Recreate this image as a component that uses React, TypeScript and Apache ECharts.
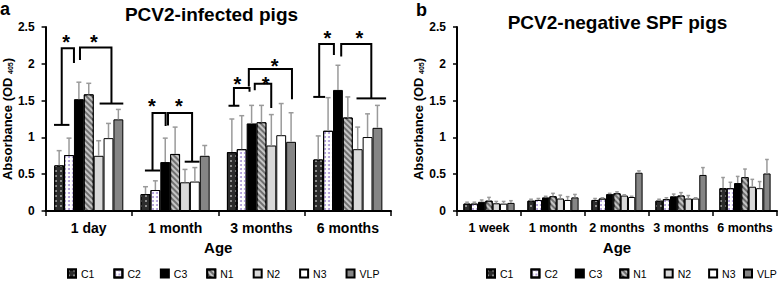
import React, { useEffect, useRef } from "react";
import * as echarts from "echarts";

const FONT = '"Liberation Sans", Arial, Helvetica, sans-serif';

const groups = ["C1", "C2", "C3", "N1", "N2", "N3", "VLP"];
const infectedAges = ["1 day", "1 month", "3 months", "6 months"];
const spfAges = ["1 week", "1 month", "2 months", "3 months", "6 months"];

// Mean absorbance, one row per group (C1..VLP), one column per age
const infectedMeans = [
  [0.62, 0.23, 0.8, 0.7],
  [0.76, 0.285, 0.84, 1.09],
  [1.52, 0.665, 1.19, 1.645],
  [1.585, 0.775, 1.205, 1.27],
  [0.75, 0.39, 0.89, 0.84],
  [0.99, 0.4, 1.03, 1.005],
  [1.245, 0.75, 0.94, 1.13],
];
// Upper end of the error bar (mean + SD)
const infectedUpper = [
  [0.82, 0.33, 1.25, 1.02],
  [0.99, 0.41, 1.295, 1.54],
  [1.75, 0.99, 1.435, 1.98],
  [1.735, 1.14, 1.435, 1.55],
  [0.955, 0.565, 1.31, 1.14],
  [1.19, 0.59, 1.46, 1.32],
  [1.38, 0.89, 1.335, 1.435],
];

const spfMeans = [
  [0.1, 0.14, 0.15, 0.14, 0.31],
  [0.1, 0.15, 0.17, 0.16, 0.31],
  [0.125, 0.185, 0.23, 0.2, 0.38],
  [0.14, 0.2, 0.24, 0.21, 0.46],
  [0.105, 0.17, 0.21, 0.17, 0.33],
  [0.1, 0.15, 0.19, 0.17, 0.31],
  [0.11, 0.185, 0.52, 0.49, 0.51],
];
const spfUpper = [
  [0.12, 0.16, 0.17, 0.16, 0.455],
  [0.12, 0.17, 0.18, 0.18, 0.39],
  [0.15, 0.2, 0.24, 0.23, 0.47],
  [0.185, 0.24, 0.26, 0.25, 0.57],
  [0.13, 0.215, 0.22, 0.21, 0.43],
  [0.13, 0.195, 0.2, 0.18, 0.4],
  [0.14, 0.225, 0.545, 0.59, 0.7],
];

// Significance brackets (panel a):
// [ageIndex, xLeft, xRight, yLeft, yTop, yRight, footLeftHalf, footRightHalf]
// x given in bar widths from the age group's centre
const infectedBrackets = [
  [0, -2.74, -1.5, 1.17, 2.21, 2.01, 0.78, 0],
  [0, -0.89, 2.3, 2.05, 2.22, 1.46, 0, 1.2],
  [1, -2.29, -0.96, 0.55, 1.33, 1.155, 0.77, 0],
  [1, -0.72, 1.72, 1.16, 1.33, 0.67, 0, 0.75],
  [2, -2.79, -1.21, 1.43, 1.67, 1.62, 0.55, 0],
  [2, -0.68, 0.99, 1.64, 1.73, 1.4, 0, 0],
  [2, -1.28, 3.09, 1.69, 1.93, 1.52, 0, 0],
  [3, -2.9, -1.41, 1.55, 2.27, 2.12, 0.6, 0],
  [3, -0.67, 2.38, 2.1, 2.27, 1.53, 0, 1.5],
];
// [ageIndex, x (bar widths from centre), y]
const infectedStars = [
  [0, -2.3, 2.36],
  [0, 0.51, 2.36],
  [1, -2.36, 1.49],
  [1, 0.38, 1.49],
  [2, -2.45, 1.79],
  [2, 0.42, 1.8],
  [2, 1.33, 2.04],
  [3, -2.08, 2.42],
  [3, 1.16, 2.42],
];

const yTicks = { min: 0, max: 2.5, interval: 0.5 };

const fills = ["#2c2c2c", "#ffffff", "#000000", "#707070", "#d9d9d9", "#ffffff", "#858585"];
const decals: any[] = [
  { symbol: "rect", symbolSize: 1, color: "#8c8c8c", dashArrayX: [1.2, 2.3], dashArrayY: [1.2, 2.3] },
  { symbol: "circle", symbolSize: 1, color: "#a894d4", dashArrayX: [1.8, 1.2], dashArrayY: [1.8, 1.2] },
  null,
  { symbol: "rect", symbolSize: 1, color: "#c4c4c4", dashArrayX: [1, 0], dashArrayY: [1.3, 1.5], rotation: Math.PI / 4 },
  null,
  null,
  null,
];

const BAR_FRACTION = 0.8;

function errorRender(params: any, api: any) {
  const cat = api.value(0);
  const s = api.value(1);
  const base = api.coord([cat, api.value(2)]);
  const top = api.coord([cat, api.value(3)]);
  const bw = (api.size([1, 0])[0] * BAR_FRACTION) / groups.length;
  const x = base[0] + (s - (groups.length - 1) / 2) * bw;
  const cap = Math.max(1.5, bw * 0.25);
  const style = { stroke: "#9a9a9a", lineWidth: 1.5, fill: "none" };
  return {
    type: "group",
    children: [
      { type: "line", shape: { x1: x, y1: base[1], x2: x, y2: top[1] }, style },
      { type: "line", shape: { x1: x - cap, y1: top[1], x2: x + cap, y2: top[1] }, style },
    ],
  };
}

function bracketRender(params: any, api: any) {
  const cat = api.value(0);
  const cx = api.coord([cat, 0])[0];
  const bw = (api.size([1, 0])[0] * BAR_FRACTION) / groups.length;
  const X = (v: number) => cx + v * bw;
  const Y = (v: number) => api.coord([cat, v])[1];
  const xl = X(api.value(1));
  const xr = X(api.value(2));
  const yl = Y(api.value(3));
  const yt = Y(api.value(4));
  const yr = Y(api.value(5));
  const fl = api.value(6) * bw;
  const fr = api.value(7) * bw;
  const style = { stroke: "#000", lineWidth: 2, fill: "none" };
  const children: any[] = [
    { type: "polyline", shape: { points: [[xl, yl], [xl, yt], [xr, yt], [xr, yr]] }, style },
  ];
  if (fl > 0) children.push({ type: "line", shape: { x1: xl - fl, y1: yl, x2: xl + fl, y2: yl }, style });
  if (fr > 0) children.push({ type: "line", shape: { x1: xr - fr, y1: yr, x2: xr + fr, y2: yr }, style });
  return { type: "group", children };
}

function starRender(params: any, api: any) {
  const cat = api.value(0);
  const c = api.coord([cat, api.value(2)]);
  const bw = (api.size([1, 0])[0] * BAR_FRACTION) / groups.length;
  return {
    type: "text",
    x: c[0] + api.value(1) * bw,
    y: c[1] + 5,
    style: {
      text: "*",
      fontSize: 20,
      fontWeight: "bold",
      fontFamily: FONT,
      fill: "#000",
      align: "center",
      verticalAlign: "middle",
    },
  };
}

function makeAxes(gridIndex: number, ages: string[], labelSize: number) {
  const x = {
    type: "category",
    gridIndex,
    data: ages,
    boundaryGap: true,
    axisLine: { show: true, lineStyle: { color: "#000", width: 2 } },
    axisTick: { show: true, length: 5, lineStyle: { color: "#000", width: 1.5 } },
    axisLabel: {
      color: "#000",
      fontWeight: "bold",
      fontSize: labelSize,
      fontFamily: FONT,
      margin: 10,
      interval: 0,
      hideOverlap: false,
    },
    name: "Age",
    nameLocation: "middle",
    nameGap: 29,
    nameTextStyle: { color: "#000", fontWeight: "bold", fontSize: 15, fontFamily: FONT },
    splitLine: { show: false },
  };
  const y = {
    type: "value",
    gridIndex,
    min: yTicks.min,
    max: yTicks.max,
    interval: yTicks.interval,
    axisLine: { show: true, lineStyle: { color: "#000", width: 2 } },
    axisTick: { show: true, length: 4, lineStyle: { color: "#000", width: 1.5 } },
    axisLabel: { color: "#000", fontWeight: "bold", fontSize: 12, fontFamily: FONT, margin: 11 },
    splitLine: { show: false },
    name: "Absorbance (OD {sub|405})",
    nameLocation: "middle",
    nameGap: gridIndex === 0 ? 28 : 27,
    nameTextStyle: {
      color: "#000",
      fontWeight: "bold",
      fontSize: 13,
      fontFamily: FONT,
      rich: {
        sub: { fontSize: 7, fontWeight: "bold", fontFamily: FONT, color: "#000", verticalAlign: "bottom" },
      },
    },
  };
  return { x, y };
}

function barSeries(gridIndex: number, means: number[][]) {
  return groups.map((name, i) => ({
    type: "bar",
    name,
    xAxisIndex: gridIndex,
    yAxisIndex: gridIndex,
    barGap: "0%",
    barCategoryGap: `${Math.round((1 - BAR_FRACTION) * 100)}%`,
    data: means[i],
    itemStyle: {
      color: fills[i],
      borderColor: "#000",
      borderWidth: 1,
      ...(decals[i] ? { decal: decals[i] } : {}),
    },
    emphasis: { disabled: true },
    z: 2,
  }));
}

function errorSeries(gridIndex: number, means: number[][], upper: number[][]) {
  const data: number[][] = [];
  means.forEach((row, s) => row.forEach((m, c) => data.push([c, s, m, upper[s][c]])));
  return {
    type: "custom",
    xAxisIndex: gridIndex,
    yAxisIndex: gridIndex,
    renderItem: errorRender,
    data,
    encode: { x: 0, y: [2, 3] },
    silent: true,
    z: 3,
  };
}

export default function App() {
  const ref = useRef<HTMLDivElement>(null);

  useEffect(() => {
    if (!ref.current) return;
    const chart = echarts.init(ref.current, null, { renderer: "svg" });
    const a = makeAxes(0, infectedAges, 14);
    const b = makeAxes(1, spfAges, 12.5);
    const legendBase = {
      orient: "horizontal",
      itemWidth: 8,
      itemHeight: 8,
      icon: "rect",
      padding: 0,
      selectedMode: false,
      textStyle: { color: "#000", fontSize: 10.5, fontFamily: FONT },
    };
    chart.setOption({
      animation: false,
      textStyle: { fontFamily: FONT },
      grid: [
        { left: 42, top: 27, width: 349, height: 184 },
        { left: 457, top: 27, width: 320, height: 184 },
      ],
      xAxis: [a.x, b.x],
      yAxis: [a.y, b.y],
      legend: [
        { ...legendBase, data: groups, left: 67, top: 268, itemGap: 19 },
        { ...legendBase, data: groups.slice(0, 6), left: 486, top: 268, itemGap: 17 },
        { ...legendBase, data: groups.slice(6), left: 743, top: 268 },
      ],
      graphic: [
        { type: "text", left: 0, top: 0, style: { text: "a", fontSize: 18, fontWeight: "bold", fontFamily: FONT, fill: "#000" } },
        { type: "text", left: 416, top: 1, style: { text: "b", fontSize: 18, fontWeight: "bold", fontFamily: FONT, fill: "#000" } },
        {
          type: "text",
          x: 211.5,
          y: 14,
          style: { text: "PCV2-infected pigs", fontSize: 19, fontWeight: "bold", fontFamily: FONT, fill: "#000", align: "center", verticalAlign: "middle" },
        },
        {
          type: "text",
          x: 617.5,
          y: 22,
          style: { text: "PCV2-negative SPF pigs", fontSize: 19, fontWeight: "bold", fontFamily: FONT, fill: "#000", align: "center", verticalAlign: "middle" },
        },
      ],
      series: [
        ...barSeries(0, infectedMeans),
        ...barSeries(1, spfMeans),
        errorSeries(0, infectedMeans, infectedUpper),
        errorSeries(1, spfMeans, spfUpper),
        {
          type: "custom",
          xAxisIndex: 0,
          yAxisIndex: 0,
          renderItem: bracketRender,
          data: infectedBrackets,
          encode: { x: 0, y: [3, 4, 5] },
          silent: true,
          z: 4,
        },
        {
          type: "custom",
          xAxisIndex: 0,
          yAxisIndex: 0,
          renderItem: starRender,
          data: infectedStars,
          encode: { x: 0, y: 2 },
          silent: true,
          z: 4,
        },
      ],
    });
    return () => chart.dispose();
  }, []);

  return (
    <div
      ref={ref}
      style={{ position: "absolute", left: 0, top: 0, width: 778, height: 284, background: "#fff" }}
    />
  );
}
